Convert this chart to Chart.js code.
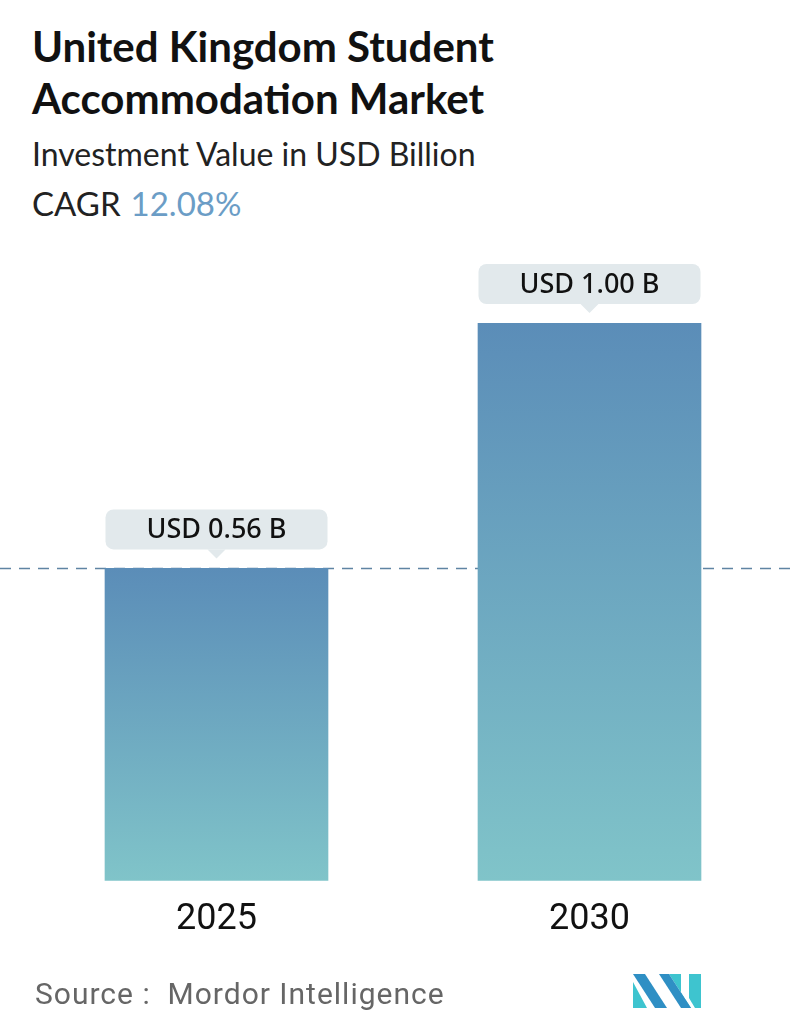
<!DOCTYPE html>
<html>
<head>
<meta charset="utf-8">
<script src="https://cdn.jsdelivr.net/npm/chart.js@4.4.1/dist/chart.umd.min.js"></script>
<style>
  body { margin: 0; width: 796px; height: 1034px; background: #fff; position: relative; overflow: hidden; font-family: Lato, sans-serif; }
  #wrap { position: absolute; left: 0; top: 0; width: 796px; height: 1034px; }
  .txt { position: absolute; left: 32px; white-space: nowrap; }
  #title { top: 20px; font-size: 42px; font-weight: 700; color: #111; line-height: 52px; }
  #sub { top: 134px; font-size: 32px; color: #222; }
  #cagr { top: 183px; font-size: 33px; color: #222; }
  #cagr span { color: #6b9dc6; margin-left: 10px; }
  #source { top: 976px; left: 35px; font-family: Roboto, sans-serif; font-size: 30px; letter-spacing: 1px; color: #666; }
  #logo { position: absolute; left: 633px; top: 974px; }
</style>
</head>
<body>
<div class="txt" id="title">United Kingdom Student<br>Accommodation Market</div>
<div class="txt" id="sub">Investment Value in USD Billion</div>
<div class="txt" id="cagr">CAGR<span>12.08%</span></div>
<div id="wrap"><canvas id="chart"></canvas></div>
<div class="txt" id="source">Source :&nbsp; Mordor Intelligence</div>
<svg id="logo" width="68" height="34" viewBox="0 0 68 34">
  <polygon points="0,0 12,0 34,34 22,34" fill="#2f8fc4"/>
  <polygon points="0,8 0,34 14,34" fill="#3ec4cf"/>
  <polygon points="36,0 48,0 48,34 58,34" fill="#3ec4cf"/>
  <polygon points="26,0 36,0 58,34 48,34" fill="#2f8fc4"/>
  <polygon points="56,0 68,0 68,34 62,34 56,24" fill="#3ec4cf"/>
</svg>
<script>
//*** DATA ***//
const years = ['2025', '2030'];
const values = [0.56, 1.00];
const valueLabels = ['USD 0.56 B', 'USD 1.00 B'];
const refValue = 0.56;

//*** PLUGINS ***//
const barGradient = (ctx) => {
    const chart = ctx.chart;
    if (!chart.chartArea) return '#6a9fbf';
    const y = chart.scales.y;
    const top = y.getPixelForValue(ctx.raw);
    const bottom = y.getPixelForValue(0);
    const g = chart.ctx.createLinearGradient(0, top, 0, bottom);
    g.addColorStop(0, '#5b8db8');
    g.addColorStop(1, '#80c4c9');
    return g;
};

const refLine = {
    id: 'refLine',
    beforeDatasetsDraw(chart) {
        const { ctx } = chart;
        const y = Math.round(chart.scales.y.getPixelForValue(refValue)) + 0.5;
        ctx.save();
        ctx.strokeStyle = '#5f84a3';
        ctx.lineWidth = 1.5;
        ctx.setLineDash([11, 8]);
        ctx.beginPath();
        ctx.moveTo(0, y);
        ctx.lineTo(chart.width, y);
        ctx.stroke();
        ctx.restore();
    }
};

const valueBoxes = {
    id: 'valueBoxes',
    afterDatasetsDraw(chart) {
        const { ctx } = chart;
        const meta = chart.getDatasetMeta(0);
        ctx.save();
        meta.data.forEach((bar, i) => {
            const w = 222, h = 40;
            const x0 = bar.x - w / 2;
            const y1 = bar.y - 19;
            const y0 = y1 - h;
            ctx.fillStyle = '#e2e9ec';
            ctx.beginPath();
            ctx.roundRect(x0, y0, w, h, 8);
            ctx.fill();
            ctx.beginPath();
            ctx.moveTo(bar.x - 9, y1);
            ctx.lineTo(bar.x + 9, y1);
            ctx.lineTo(bar.x, y1 + 9);
            ctx.closePath();
            ctx.fill();
            ctx.fillStyle = '#111';
            ctx.font = '500 27px "Noto Sans"';
            ctx.textAlign = 'center';
            ctx.textBaseline = 'middle';
            ctx.fillText(valueLabels[i], bar.x, y0 + h / 2 + 1);
        });
        ctx.restore();
    }
};

//*** CHART ***//
new Chart(document.getElementById('chart'), {
    type: 'bar',
    data: {
        labels: years,
        datasets: [{
            data: values,
            backgroundColor: barGradient,
            borderWidth: 0,
            barThickness: 223
        }]
    },
    options: {
        responsive: true,
        maintainAspectRatio: false,
        animation: false,
        layout: { padding: { top: 323, left: 30, right: 20, bottom: 82 } },
        plugins: { legend: { display: false }, tooltip: { enabled: false } },
        scales: {
            x: {
                grid: { display: false },
                border: { display: false },
                ticks: { color: '#111', font: { family: 'Roboto', size: 36 }, padding: 10 }
            },
            y: { display: false, min: 0, max: 1.0 }
        }
    },
    plugins: [refLine, valueBoxes]
});
</script>
</body>
</html>
